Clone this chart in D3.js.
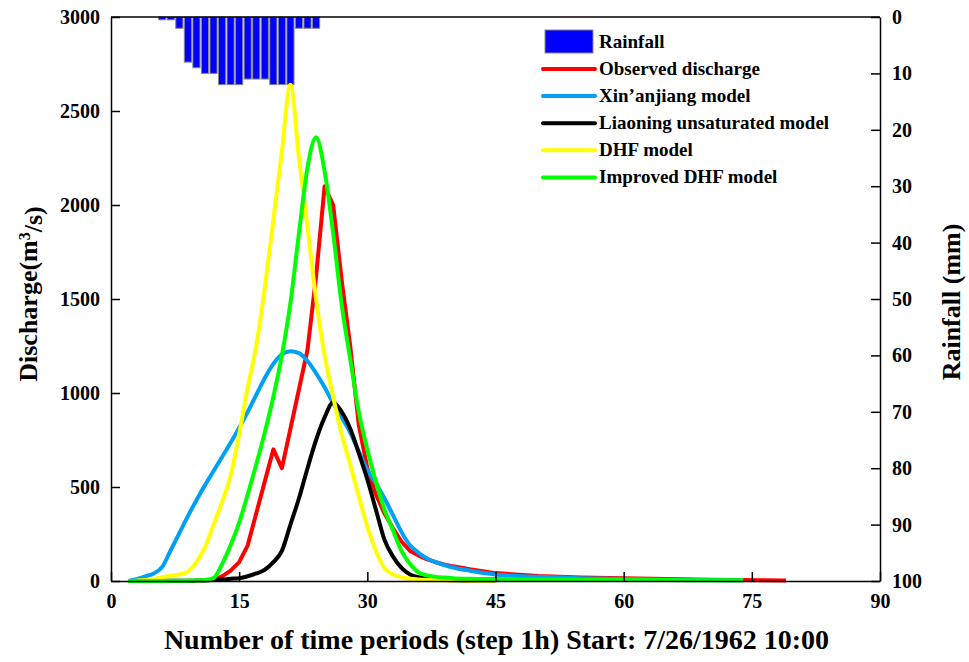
<!DOCTYPE html>
<html>
<head>
<meta charset="utf-8">
<script src="https://cdn.jsdelivr.net/npm/d3@7"></script>
<style>
  body { margin: 0; background: #fff; }
  text { font-family: "Palatino Linotype", "Book Antiqua", Palatino, "Liberation Serif", serif; font-weight: bold; fill: #000; }
</style>
</head>
<body>
<div id="chart"></div>
<script>
// rainfall per hour (mm)
var rainHours = [6, 7, 8, 9, 10, 11, 12, 13, 14, 15, 16, 17, 18, 19, 20, 21, 22, 23, 24];
var rainfall = [0.5, 0.5, 2, 8, 9, 10, 10, 12, 12, 12, 11, 11, 11, 12, 12, 12, 2, 2, 2];

// discharge (m3/s) at these time periods
var hours = [2, 3, 4, 5, 6, 7, 8, 9, 10, 11, 12, 13, 14, 15, 16, 17, 18, 19, 20, 21,
  22, 23, 24, 25, 26, 27, 28, 29, 30, 31, 32, 33, 34, 35, 36, 37, 38, 39, 40,
  42, 45, 50, 55, 60, 65, 70, 74, 79];

var observed = [null, null, null, null, null, null, null, null, null, null,
  5, 25, 55, 100, 190, 360, 530, 700, 600, 810, 1020, 1230, 1620, 2100, 2000, 1600, 1250, 830, 600,
  460, 360, 280, 210, 160, 135, 115, 100, 88, 78,
  62, 42, 26, 19, 14, 10, 7, 5, 3];
var xinanjiang = [0, 10, 25, 40, 75, 165, 255, 345, 430, 510, 585, 660, 735, 815, 900, 990, 1080, 1155, 1205, 1222,
  1212, 1170, 1105, 1030, 945, 870, 790, 690, 590, 520, 440, 350, 260, 190, 150, 120, 100, 85, 72,
  55, 35, 22, 15, 10, 7, 5, 4, null];
var liaoning = [0, 0, 0, 0, 1, 1, 1, 1, 2, 3, 5, 8, 12, 15, 25, 40, 60, 100, 160, 300,
  440, 600, 750, 870, 950, 900, 810, 680, 540, 380, 220, 130, 70, 35, 20, 12, 8, 6, 4,
  3, 2, null, null, null, null, null, null, null];
var dhf = [0, 2, 5, 10, 20, 28, 35, 50, 100, 180, 300, 420, 560, 780, 1030, 1250, 1560, 1920, 2285, 2640,
  2250, 1880, 1500, 1200, 980, 780, 620, 450, 290, 160, 70, 35, 20, 12, 8, 6, 5, 4, 4,
  3, 2, null, null, null, null, null, null, null];
var improvedDhf = [0, 0, 0, 0, 0, 1, 1, 2, 3, 5, 15, 90, 190, 310, 460, 620, 790, 980, 1200, 1480,
  1850, 2200, 2360, 2180, 1850, 1470, 1180, 900, 700, 530, 380, 270, 160, 90, 45, 30, 22, 18, 15,
  12, 10, 8, 7, 6, 5, 4, 4, null];

var xTicks = [0, 15, 30, 45, 60, 75, 90];
var qTicks = [0, 500, 1000, 1500, 2000, 2500, 3000];
var rTicks = [0, 10, 20, 30, 40, 50, 60, 70, 80, 90, 100];

var svgWidth = 969;
var svgHeight = 662;
var margin = { top: 17, right: 89, bottom: 81, left: 111 };
var width = svgWidth - margin.left - margin.right;
var height = svgHeight - margin.top - margin.bottom;

var svg = d3.select("#chart")
  .append("svg")
  .attr("width", svgWidth)
  .attr("height", svgHeight);

var chartGroup = svg.append("g")
  .attr("transform", `translate(${margin.left}, ${margin.top})`);

var xScale = d3.scaleLinear().domain([0, 90]).range([0, width]);
var yScale = d3.scaleLinear().domain([0, 3000]).range([height, 0]);
var rainScale = d3.scaleLinear().domain([0, 100]).range([0, height]);

// rainfall bars hanging from the top
var step = xScale(1) - xScale(0);
chartGroup.selectAll(".rain")
  .data(rainfall)
  .enter()
  .append("rect")
  .attr("class", "rain")
  .attr("x", (d, i) => xScale(rainHours[i]) - step * 0.42)
  .attr("y", 0)
  .attr("width", step * 0.84)
  .attr("height", d => rainScale(d))
  .attr("fill", "#0000ff")
  .attr("stroke", "#8a8a8a")
  .attr("stroke-width", 1);

// discharge lines
var series = [
  { name: "Observed discharge", values: observed, color: "#ff0000", curve: d3.curveLinear },
  { name: "Xin\u2019anjiang model", values: xinanjiang, color: "#00a0f5", curve: d3.curveMonotoneX },
  { name: "Liaoning unsaturated model", values: liaoning, color: "#000000", curve: d3.curveMonotoneX },
  { name: "DHF model", values: dhf, color: "#ffff00", curve: d3.curveMonotoneX },
  { name: "Improved DHF model", values: improvedDhf, color: "#00ff00", curve: d3.curveMonotoneX }
];

series.forEach(function(s) {
  var line = d3.line()
    .defined((d, i) => s.values[i] !== null)
    .x((d, i) => xScale(hours[i]))
    .y((d, i) => yScale(s.values[i]))
    .curve(s.curve);
  chartGroup.append("path")
    .datum(hours)
    .attr("d", line)
    .attr("fill", "none")
    .attr("stroke", s.color)
    .attr("stroke-width", 4)
    .attr("stroke-linejoin", "round");
});

// axes, ticks pointing inward
var fmt = d3.format("d");
var bottomAxis = d3.axisBottom(xScale).tickValues(xTicks).tickFormat(fmt).tickSizeInner(-9).tickSizeOuter(0).tickPadding(13);
var leftAxis = d3.axisLeft(yScale).tickValues(qTicks).tickFormat(fmt).tickSizeInner(-9).tickSizeOuter(0).tickPadding(11);
var rightAxis = d3.axisRight(rainScale).tickValues(rTicks).tickFormat(fmt).tickSizeInner(-9).tickSizeOuter(0).tickPadding(12);

var xAxis = chartGroup.append("g")
  .attr("transform", `translate(0, ${height})`)
  .call(bottomAxis);
var yAxis = chartGroup.append("g")
  .call(leftAxis);
var rAxis = chartGroup.append("g")
  .attr("transform", `translate(${width}, 0)`)
  .call(rightAxis);

[xAxis, yAxis, rAxis].forEach(function(a) {
  a.selectAll("text").style("font-size", "20px");
  a.selectAll("line").attr("stroke", "#000").attr("stroke-width", 1.5);
  a.select(".domain").attr("stroke", "#000").attr("stroke-width", 1.5);
});

// top border
chartGroup.append("line")
  .attr("x1", 0).attr("x2", width)
  .attr("y1", 0).attr("y2", 0)
  .attr("stroke", "#000")
  .attr("stroke-width", 1.5);

// axis titles
svg.append("text")
  .attr("x", margin.left + width / 2 + 1)
  .attr("y", 649)
  .attr("text-anchor", "middle")
  .style("font-size", "28px")
  .text("Number of time periods (step 1h) Start: 7/26/1962 10:00");

var yTitle = svg.append("text")
  .attr("transform", "translate(37, 294) rotate(-90)")
  .attr("text-anchor", "middle")
  .style("font-size", "26px");
yTitle.append("tspan").text("Discharge(m");
yTitle.append("tspan").attr("dy", "-0.45em").style("font-size", "16px").text("3");
yTitle.append("tspan").attr("dy", "0.45em").text("/s)");

svg.append("text")
  .attr("transform", "translate(960, 302) rotate(-90)")
  .attr("text-anchor", "middle")
  .style("font-size", "26px")
  .text("Rainfall (mm)");

// legend
var legend = svg.append("g").attr("transform", "translate(543, 0)");
legend.append("rect")
  .attr("x", 2).attr("y", 30)
  .attr("width", 48).attr("height", 23)
  .attr("fill", "#0000ff")
  .attr("stroke", "#8a8a8a");
legend.append("text")
  .attr("x", 56).attr("y", 48)
  .style("font-size", "19px")
  .text("Rainfall");

series.forEach(function(s, i) {
  var ly = 69 + i * 27.1;
  legend.append("line")
    .attr("x1", 0).attr("x2", 52)
    .attr("y1", ly).attr("y2", ly)
    .attr("stroke", s.color)
    .attr("stroke-width", 4)
    .attr("stroke-linecap", "round");
  legend.append("text")
    .attr("x", 56).attr("y", ly + 6)
    .style("font-size", "19px")
    .text(s.name);
});
</script>
</body>
</html>
